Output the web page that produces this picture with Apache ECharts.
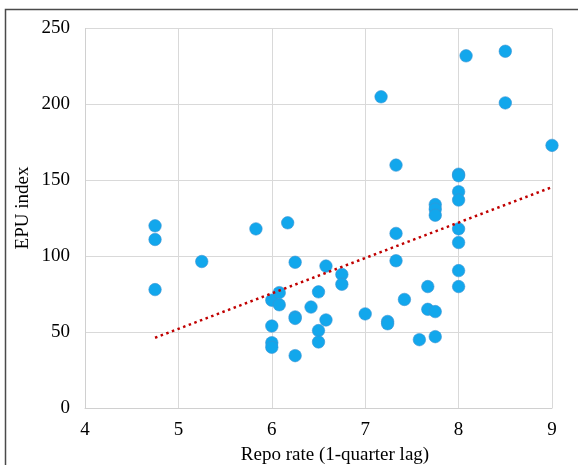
<!DOCTYPE html>
<html>
<head>
<meta charset="utf-8">
<script src="https://cdn.jsdelivr.net/npm/echarts@6/dist/echarts.min.js"></script>
<style>
html,body{margin:0;padding:0;background:#fff;}
#chart{width:578px;height:465px;}
</style>
</head>
<body>
<div id="chart"></div>
<script>
// Repo rate (1-quarter lag)
var repoRate = [4.75,4.75,4.75,5.25,5.83,6.17,6.25,6.0,6.08,6.08,6.0,6.0,6.0,6.25,6.25,6.25,6.42,6.5,6.5,6.5,6.58,6.58,6.75,6.75,7.0,7.17,7.24,7.24,7.33,7.33,7.33,7.42,7.58,7.67,7.67,7.75,7.75,7.75,7.75,7.75,8.0,8.0,8.0,8.0,8.0,8.0,8.0,8.0,8.08,8.5,8.5,9.0];
// EPU index
var epuIndex = [120,111,78,96.5,118,122,96,71,76,68,54,43,40,60,59,34.5,66.5,76.5,51,43.5,93.5,58,88,81.5,62,205,57,55.5,160,115,97,71.5,45,80,65,134,131,127,63.5,47,154,153,142.5,137,118,109,90.5,80,232,235,201,173];
// Linear trendline endpoints (x, y)
var trendX = [4.75, 9.0];
var trendY = [46.3, 145.5];
var xTicks = [4,5,6,7,8,9];
var yTicks = [0,50,100,150,200,250];

var chart = echarts.init(document.getElementById('chart'), null, {renderer:'canvas'});
var font = '"Liberation Serif","Times New Roman",serif';
var scatterData = repoRate.map(function(x,i){return [x, epuIndex[i]];});
var trendData = trendX.map(function(x,i){return [x, trendY[i]];});

chart.setOption({
  animation:false,
  backgroundColor:'#ffffff',
  grid:{left:85,right:26,top:28.5,bottom:57,containLabel:false},
  xAxis:{
    type:'value', min:xTicks[0], max:xTicks[xTicks.length-1], interval:1,
    axisLine:{show:true,lineStyle:{color:'#d0d0d0',width:1}},
    axisTick:{show:false},
    axisLabel:{color:'#000',fontFamily:font,fontSize:19,margin:13},
    splitLine:{show:true,lineStyle:{color:'#d9d9d9',width:1}}
  },
  yAxis:{
    type:'value', min:yTicks[0], max:yTicks[yTicks.length-1], interval:50,
    axisLine:{show:true,lineStyle:{color:'#d0d0d0',width:1}},
    axisTick:{show:false},
    axisLabel:{color:'#000',fontFamily:font,fontSize:19,margin:15},
    splitLine:{show:true,lineStyle:{color:'#d9d9d9',width:1}}
  },
  graphic:[
    {type:'rect',shape:{x:5.5,y:9.5,width:700,height:600},style:{fill:'none',stroke:'#4a4a4a',lineWidth:1.5},silent:true,z:-1},
    {type:'text',x:335,y:455,style:{text:'Repo rate (1-quarter lag)',font:'19px '+font,fill:'#000',textAlign:'center',textVerticalAlign:'middle'},silent:true},
    {type:'text',rotation:Math.PI/2,x:23,y:208,style:{text:'EPU index',font:'19px '+font,fill:'#000',textAlign:'center',textVerticalAlign:'middle'},silent:true}
  ],
  series:[
    {
      type:'line', data:trendData, symbol:'none',
      lineStyle:{color:'#c00000',width:2.5,type:[2.5,3.5]},
      z:3
    },
    {
      type:'scatter', data:scatterData, symbol:'circle', symbolSize:12.5,
      itemStyle:{color:'#12a7ec',borderColor:'#3a93d4',borderWidth:0.6,opacity:1},
      z:2
    }
  ]
});
</script>
</body>
</html>
